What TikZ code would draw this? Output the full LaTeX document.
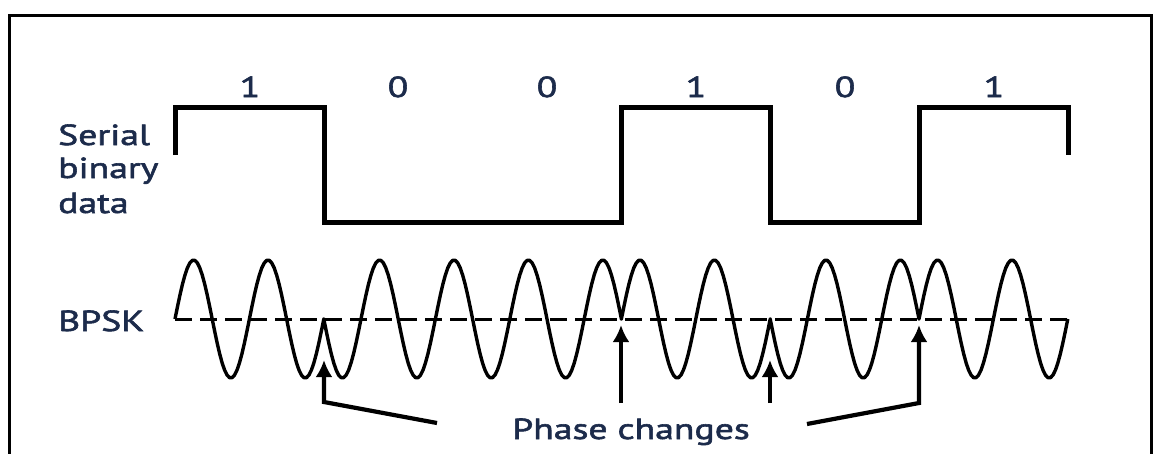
\documentclass[tikz,border=0pt]{standalone}
\usepackage{fontspec}
\setmainfont{PT Sans}[FakeStretch=1.3, FakeBold=2]
\usetikzlibrary{arrows.meta}
\definecolor{labelnavy}{HTML}{1C2B4B}
\tikzset{
    sqwave/.style={line width=5pt, line join=miter},
    carrier/.style={line width=3.4pt, line join=round},
    zeroline/.style={line width=3pt, dash pattern=on 17pt off 8pt},
    phasearrow/.style={-{Latex[length=17pt,width=17pt]}, line width=4.2pt},
    lbl/.style={text=labelnavy, font=\fontsize{29}{34}\selectfont, inner sep=0pt}
}

\begin{document}
\begin{tikzpicture}[x=1pt,y=-1pt]
    \useasboundingbox (0,0) rectangle (1154,453);
    \draw[line width=3pt] (9,455) -- (9,15) -- (1151,15) -- (1151,455);

    \node[lbl, anchor=base west] (serial) at (58,145) {Serial};
    \node[lbl, anchor=base west] (binary) at (58,178) {binary};
    \node[lbl, anchor=base west] (data) at (58,213) {data};
    \node[lbl, anchor=base west] (bpsk) at (58,331) {BPSK};

    \node[lbl, anchor=base] (b1) at (250,97) {1};
    \node[lbl, anchor=base] (b2) at (398,97) {0};
    \node[lbl, anchor=base] (b3) at (547,97) {0};
    \node[lbl, anchor=base] (b4) at (696,97) {1};
    \node[lbl, anchor=base] (b5) at (845,97) {0};
    \node[lbl, anchor=base] (b6) at (994,97) {1};

    \draw[sqwave] (175,155) -- (175,107) -- (324,107) -- (324,222) -- (621,222) -- (621,107) -- (770,107) -- (770,222) -- (919,222) -- (919,107) -- (1068,107) -- (1068,155);

    \draw[zeroline] (175,319) -- (1070,319);
    \draw[carrier] (175,319) \foreach \s [count=\i from 0] in {1,-1,-1,1,-1,1} { -- plot[domain=0:720, samples=61] ({175+148.8*\i+\x/4.8387},{319-59*\s*sin(\x)}) };

    \node[lbl, anchor=base] (phase) at (631,439) {Phase changes};

    \coordinate (pc1) at (324,360);
    \coordinate (k1) at (324,402);
    \coordinate (e1) at (437,423);
    \coordinate (pc2) at (621,325);
    \coordinate (e2) at (621,403);
    \coordinate (pc3) at (770,360);
    \coordinate (e3) at (770,403);
    \coordinate (pc4) at (919,325);
    \coordinate (k4) at (919,403);
    \coordinate (e4) at (807,424);

    \draw[phasearrow] (e1) -- (k1) -- (pc1);
    \draw[phasearrow] (e2) -- (pc2);
    \draw[phasearrow] (e3) -- (pc3);
    \draw[phasearrow] (e4) -- (k4) -- (pc4);
\end{tikzpicture}
\end{document}
